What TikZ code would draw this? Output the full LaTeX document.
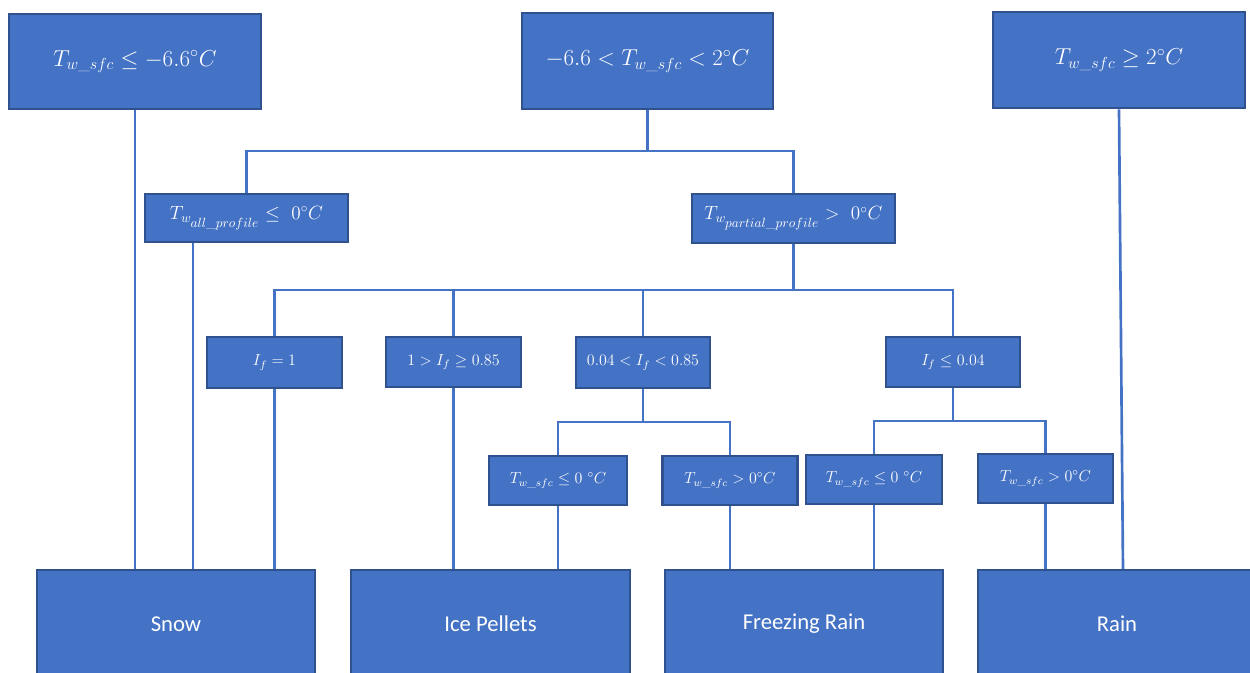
\documentclass[tikz,border=0pt]{standalone}
\usepackage{amsmath}
\usepackage{fontspec}
\newfontfamily\calib{Carlito}
\usetikzlibrary{backgrounds}
\definecolor{boxblue}{HTML}{4472C4}
\definecolor{boxedge}{HTML}{2F528F}
\tikzset{
  box/.style 2 args={draw=boxedge, fill=boxblue, line width=2pt, text=white,
    inner sep=0pt, align=center, minimum width=#1*0.75pt, minimum height=#2*0.75pt},
  topf/.style={font=\fontsize{17}{20}\selectfont},
  midf/.style={font=\fontsize{14}{17}\selectfont},
  smallf/.style={font=\fontsize{11.5}{14}\selectfont},
  endf/.style={font=\calib\fontsize{17}{20}\selectfont},
  conn/.style={draw=boxblue, line width=2pt}
}
\newcommand{\usc}{\text{\_}}
\begin{document}
\begin{tikzpicture}[x=0.75pt,y=-0.75pt]
\useasboundingbox (0,0) rectangle (1250,673);
\clip (0,0) rectangle (1250,673);
% top row
\node[box={252}{95}, topf] (A) at (135,61.5) {$T_{w\usc sfc} \leq -6.6^{\circ}C$};
\node[box={251}{96}, topf] (B) at (647.5,61) {$-6.6 < T_{w\usc sfc} < 2^{\circ}C$};
\node[box={252}{96}, topf] (C) at (1119,60) {$T_{w\usc sfc} \geq 2^{\circ}C$};
% second row
\node[box={203}{48}, midf] (D) at (246.5,218) {$T_{w_{\scriptstyle all\usc profile}} \leq\ 0^{\circ}C$};
\node[box={203}{49}, midf] (E) at (793.5,218.5) {$T_{w_{\scriptstyle partial\usc profile}} >\ 0^{\circ}C$};
% third row
\node[box={135}{51}, smallf] (F1) at (274.5,362.5) {$I_f = 1$};
\node[box={135}{50}, smallf] (F2) at (453.5,362) {$1 > I_f \geq 0.85$};
\node[box={134}{51}, smallf] (F3) at (643,362.5) {$0.04 < I_f < 0.85$};
\node[box={134}{50}, smallf] (F4) at (953,362) {$I_f \leq 0.04$};
% fourth row
\node[box={138}{49}, smallf] (G1) at (558,480.5) {$T_{w\usc sfc} \leq 0\ {}^{\circ}C$};
\node[box={135}{49}, smallf] (G2) at (730,480.5) {$T_{w\usc sfc} > 0^{\circ}C$};
\node[box={136}{49}, smallf] (G3) at (874,479.5) {$T_{w\usc sfc} \leq 0\ {}^{\circ}C$};
\node[box={135}{49}, smallf] (G4) at (1045.5,478.5) {$T_{w\usc sfc} > 0^{\circ}C$};
% outcomes
\node[box={278}{108}, endf] (Snow) at (176,624) {Snow};
\node[box={279}{108}, endf] (Ice) at (490.5,624) {Ice Pellets};
\node[box={278}{108}, endf] (Frz) at (804,624) {Freezing Rain};
\node[box={278}{108}, endf] (Rain) at (1117,624) {Rain};
\coordinate (sD) at (193,570);
\coordinate (cR) at (1123,570);
\coordinate (b1) at (647.5,151);
\coordinate (e1) at (793.5,290);
\coordinate (f3) at (643,422);
\coordinate (f4) at (953,421);
\begin{scope}[on background layer]
\fill[white] (0,0) rectangle (1250,673);
\draw[conn] (A.south) -- (A.south |- Snow.north);
\draw[conn] (B.south) -- (b1);
\draw[conn] (D.north) -- (D.north |- b1) -- (E.north |- b1) -- (E.north);
\draw[conn] (C.south) -- (cR);
\draw[conn] (D.south -| sD) -- (sD);
\draw[conn] (E.south) -- (e1);
\draw[conn] (F1.north) -- (F1.north |- e1) -- (F4.north |- e1) -- (F4.north);
\draw[conn] (F2.north) -- (F2.north |- e1);
\draw[conn] (F3.north) -- (F3.north |- e1);
\draw[conn] (F1.south) -- (F1.south |- Snow.north);
\draw[conn] (F2.south) -- (F2.south |- Ice.north);
\draw[conn] (F3.south) -- (f3);
\draw[conn] (G1.north) -- (G1.north |- f3) -- (G2.north |- f3) -- (G2.north);
\draw[conn] (F4.south) -- (f4);
\draw[conn] (G3.north) -- (G3.north |- f4) -- (G4.north |- f4) -- (G4.north);
\draw[conn] (G1.south) -- (G1.south |- Ice.north);
\draw[conn] (G2.south) -- (G2.south |- Frz.north);
\draw[conn] (G3.south) -- (G3.south |- Frz.north);
\draw[conn] (G4.south) -- (G4.south |- Rain.north);
\end{scope}
\end{tikzpicture}
\end{document}
